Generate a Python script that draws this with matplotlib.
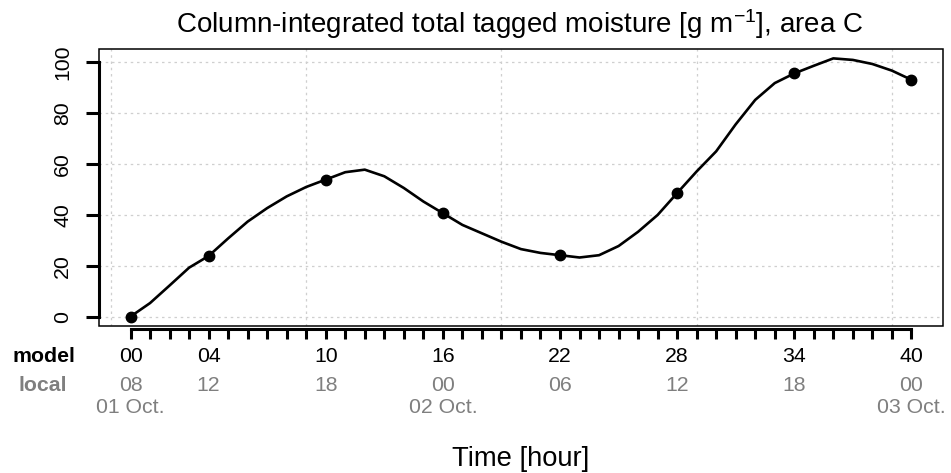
import numpy as np
import matplotlib
matplotlib.use("Agg")
import matplotlib.pyplot as plt
from matplotlib.patches import Rectangle

plt.rcParams['font.family'] = ['Liberation Sans', 'DejaVu Sans']
plt.rcParams['mathtext.fontset'] = 'custom'
plt.rcParams['mathtext.rm'] = 'Liberation Sans'
plt.rcParams['mathtext.default'] = 'regular'

# hourly model output, hour 0 .. 40
hours = np.arange(0, 41)
moisture = [0.0, 5.3, 12.2, 19.2, 23.8, 30.7, 37.3, 42.6, 47.2, 50.9,
            53.8, 56.7, 57.7, 55.1, 50.5, 45.2, 40.6, 36.0, 32.7, 29.4,
            26.5, 25.0, 24.1, 23.2, 24.1, 27.7, 33.3, 39.9, 48.5, 57.0,
            64.9, 75.5, 85.1, 91.7, 95.5, 98.5, 101.4, 100.8, 99.2, 96.6,
            93.0]

# labelled hours on the time axis
label_hours = [0, 4, 10, 16, 22, 28, 34, 40]
model_labels = ['00', '04', '10', '16', '22', '28', '34', '40']
local_labels = ['08', '12', '18', '00', '06', '12', '18', '00']
date_hours = [0, 16, 40]
date_labels = ['01 Oct.', '02 Oct.', '03 Oct.']

y_ticks = [0, 20, 40, 60, 80, 100]
grid_x = [-1, 9, 19, 29, 39]

GRAY = '#7f7f7f'
TICK_FS = 15.3

fig = plt.figure(figsize=(9.51, 4.73), dpi=100)
ax = fig.add_axes([0.1044, 0.3108, 0.8868, 0.5846])

ax.set_xlim(-1.6, 41.6)
ax.set_ylim(-3.7, 104.9)

# dotted background grid
for gx in grid_x:
    ax.axvline(gx, color='#cfcfcf', lw=0.9, ls=(0, (2, 3)), zorder=0)
for gy in y_ticks:
    ax.axhline(gy, color='#cfcfcf', lw=0.9, ls=(0, (2, 3)), zorder=0)

ax.plot(hours, moisture, color='black', lw=1.9,
        marker='o', markersize=7.5, markevery=label_hours, zorder=3)

# thin frame around the plot region
for s in ax.spines.values():
    s.set_visible(False)
ax.add_patch(Rectangle((0, 0), 1, 1, transform=ax.transAxes, fill=False,
                       lw=1.1, edgecolor='black', clip_on=False, zorder=4))

# thick axis lines, x one slightly below the frame
ax.spines['bottom'].set_visible(True)
ax.spines['bottom'].set_position(('outward', 2.2))
ax.spines['bottom'].set_bounds(0, 40)
ax.spines['bottom'].set_linewidth(2.2)
ax.spines['left'].set_visible(True)
ax.spines['left'].set_bounds(0, 100)
ax.spines['left'].set_linewidth(2.2)

ax.set_xticks(hours)
ax.set_xticklabels([])
ax.tick_params(axis='x', direction='out', length=7, width=2.2)

ax.set_yticks(y_ticks)
ax.set_yticklabels([str(v) for v in y_ticks], rotation=90, va='center',
                   fontsize=TICK_FS)
ax.tick_params(axis='y', direction='out', length=9.5, width=2.2, pad=10)

# model / local time rows under the axis
for h, lab in zip(label_hours, model_labels):
    ax.annotate(lab, xy=(h, 0), xycoords=('data', 'axes fraction'),
                xytext=(0, -22), textcoords='offset points',
                ha='center', va='center', fontsize=TICK_FS, color='black')
for h, lab in zip(label_hours, local_labels):
    ax.annotate(lab, xy=(h, 0), xycoords=('data', 'axes fraction'),
                xytext=(0, -43), textcoords='offset points',
                ha='center', va='center', fontsize=TICK_FS, color=GRAY)
for h, lab in zip(date_hours, date_labels):
    ax.annotate(lab, xy=(h, 0), xycoords=('data', 'axes fraction'),
                xytext=(0, -58.5), textcoords='offset points',
                ha='center', va='center', fontsize=TICK_FS, color=GRAY)

fig.text(44 / 951, 1 - 356.5 / 473, 'model', ha='center', va='center',
         fontsize=TICK_FS, fontweight='bold', color='black')
fig.text(43 / 951, 1 - 385.5 / 473, 'local', ha='center', va='center',
         fontsize=TICK_FS, fontweight='bold', color=GRAY)

fig.text(0.548, 1 - 466 / 473, 'Time [hour]', ha='center', va='baseline',
         fontsize=19.7)
fig.text(0.546, 1 - 33 / 473,
         'Column-integrated total tagged moisture [g m$^{-1}$], area C',
         ha='center', va='baseline', fontsize=20)

fig.savefig('out.png', dpi=100)
